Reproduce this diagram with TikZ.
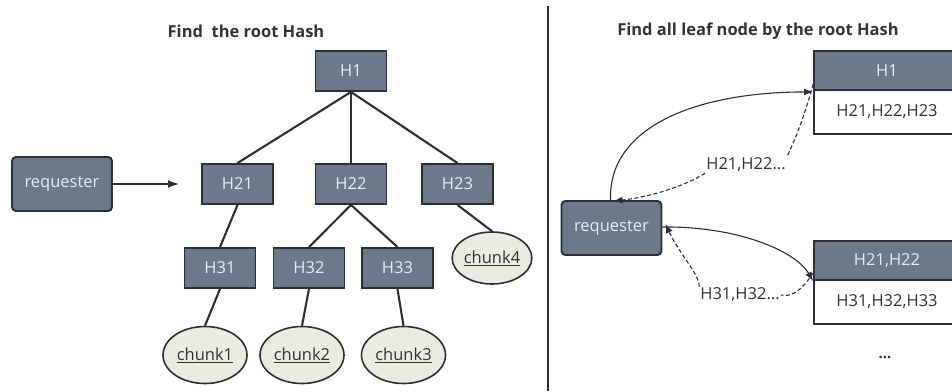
\documentclass[tikz,border=0pt]{standalone}
\usepackage{fontspec}
\setmainfont{Open Sans}
\usetikzlibrary{arrows.meta,shapes.geometric,positioning}
\definecolor{boxfill}{HTML}{6C798B}
\definecolor{boxtext}{HTML}{E8EBEF}
\definecolor{edgecol}{HTML}{2C2F34}
\definecolor{chunkfill}{HTML}{ECEBE2}
\definecolor{inktext}{HTML}{333333}
\tikzset{
  hashbox/.style={draw=edgecol, line width=1.9pt, fill=boxfill, text=boxtext,
    minimum width=71pt, minimum height=40pt, inner sep=0pt, font=\fontsize{16.5}{19}\selectfont},
  reqbox/.style={hashbox, rounded corners=4pt, minimum width=100pt, minimum height=54pt},
  chunk/.style={ellipse, draw=edgecol, line width=1.6pt, fill=chunkfill, text=inktext,
    minimum width=84pt, minimum height=57pt, inner sep=0pt, font=\fontsize{16.5}{19}\selectfont},
  tabhead/.style={hashbox, minimum width=146pt, minimum height=39pt},
  tabbody/.style={draw=edgecol, line width=1.9pt, fill=white, text=inktext,
    minimum width=146pt, minimum height=44pt, inner sep=0pt, font=\fontsize{16.5}{19}\selectfont},
  treeline/.style={draw=edgecol, line width=2.1pt},
  title/.style={font=\bfseries\fontsize{16.5}{19}\selectfont, text=inktext},
  flow/.style={draw=edgecol, line width=1.1pt, -{Latex[length=9pt,width=7pt]}},
  reply/.style={flow, dashed, dash pattern=on 4pt off 2.5pt},
  tag/.style={fill=white, inner sep=1pt, text=inktext, font=\fontsize{16.5}{19}\selectfont},
}
\begin{document}
\begin{tikzpicture}[x=1pt,y=-1pt]
\useasboundingbox (0,0) rectangle (952,391);
\clip (0,0) rectangle (952,391);

% ---- left: locating the root hash ----
\node[title] (tl) at (246,31) {Find\ \ the root Hash};
\node[reqbox] (reqL) at (62,184) {requester};
\node[hashbox] (h1) at (351,71) {H1};
\node[hashbox] (h21) at (237.5,184) {H21};
\node[hashbox] (h22) at (351,184) {H22};
\node[hashbox] (h23) at (457.5,184) {H23};
\node[hashbox] (h31) at (220,268) {H31};
\node[hashbox] (h32) at (309,268) {H32};
\node[hashbox] (h33) at (397.5,268) {H33};
\node[chunk] (c1) at (205,355) {\underline{chunk1}};
\node[chunk] (c2) at (302,355) {\underline{chunk2}};
\node[chunk] (c3) at (403.5,355) {\underline{chunk3}};
\node[chunk, minimum width=72pt, minimum height=52pt] (c4) at (492,258) {\underline{chunk4}};
\coordinate (arrowend) at (179,184);

\draw[treeline] (h1.south) -- (h21.north);
\draw[treeline] (h1.south) -- (h22.north);
\draw[treeline] (h1.south) -- (h23.north);
\draw[treeline] (h21.south) -- (h31.north);
\draw[treeline] (h22.south) -- (h32.north);
\draw[treeline] (h22.south) -- (h33.north);
\draw[treeline] (h23.south) -- (c4.north);
\draw[treeline] (h31.south) -- (c1.north);
\draw[treeline] (h32.south) -- (c2.north);
\draw[treeline] (h33.south) -- (c3.north);
\draw[draw=edgecol, line width=1.1pt, -{Latex[length=11pt,width=8pt]}] (reqL.east) -- (arrowend);

% ---- divider ----
\coordinate (divtop) at (548,6);
\coordinate (divbot) at (548,391);
\draw[edgecol, line width=1.9pt] (divtop) -- (divbot);

% ---- right: walking down from the root hash ----
\node[title] (tr) at (758,31) {Find all leaf node by the root Hash};
\node[reqbox] (reqR) at (611.5,228) {requester};
\node[tabhead] (t1h) at (887,70.5) {H1};
\node[tabbody] (t1b) at (887,112) {H21,H22,H23};
\node[tabhead] (t2h) at (887,260.5) {H21,H22};
\node[tabbody] (t2b) at (887,302) {H31,H32,H33};
\node[text=inktext, font=\bfseries\fontsize{15}{17}\selectfont] (more) at (885,357) {...};

\node[tag] (lab1) at (746,165) {H21,H22...};
\node[tag] (lab2) at (740,295) {H31,H32...};

\coordinate (q1) at ([yshift=-1pt]t1h.south west);
\coordinate (r1) at ([yshift=5pt]t1b.north west);
\coordinate (q2) at (t2h.south west);
\coordinate (r2) at ([yshift=6pt]t2b.north west);
\coordinate (s1) at ([xshift=-1pt]reqR.north);
\coordinate (e1) at ([xshift=2pt,yshift=-1pt]reqR.north);
\coordinate (s2) at ([yshift=1pt]reqR.east);
\coordinate (e2) at ([xshift=3pt,yshift=4pt]reqR.east);

\draw[flow] (s1) .. controls (608,125) and (700,92) .. (q1);
\draw[reply] (r1) .. controls (805,115) and (795,140) .. (lab1.north east)
  (lab1.south west) .. controls (685,186) and (650,197) .. (e1);
\draw[flow] (s2) .. controls (735,226) and (795,250) .. (q2);
\draw[reply] (r2) .. controls (800,293) and (790,297) .. (lab2.east)
  (lab2.north west) .. controls (700,275) and (680,255) .. (e2);
\end{tikzpicture}
\end{document}
